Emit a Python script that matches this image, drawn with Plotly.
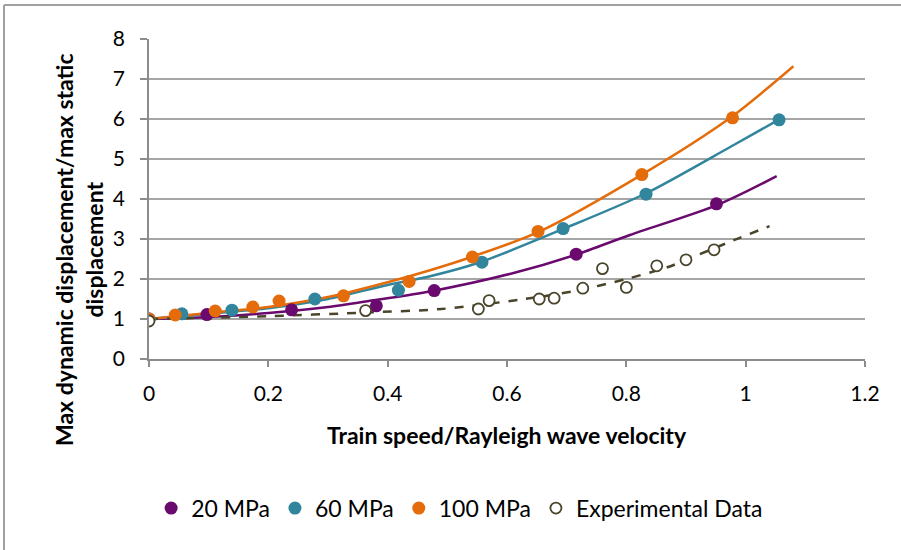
import plotly.graph_objects as go

# ---- data ----
x_20 = [0, 0.097, 0.239, 0.381, 0.478, 0.716, 0.951]
y_20 = [1.0, 1.11, 1.23, 1.33, 1.71, 2.62, 3.88]
fit_x_20 = [0, 0.1, 0.2, 0.3, 0.376, 0.471, 0.611, 0.714, 0.806, 0.954, 1.052]
fit_y_20 = [1.0, 1.05, 1.15, 1.3, 1.47, 1.69, 2.15, 2.6, 3.1, 3.86, 4.57]

x_60 = [0, 0.055, 0.139, 0.278, 0.418, 0.558, 0.694, 0.833, 1.056]
y_60 = [1.0, 1.13, 1.22, 1.5, 1.72, 2.42, 3.26, 4.12, 5.98]
fit_x_60 = [0, 0.1, 0.2, 0.3, 0.4, 0.471, 0.555, 0.694, 0.834, 0.974, 1.055]
fit_y_60 = [1.0, 1.13, 1.27, 1.5, 1.85, 2.07, 2.42, 3.25, 4.15, 5.3, 5.98]

x_100 = [0, 0.044, 0.111, 0.174, 0.218, 0.326, 0.436, 0.542, 0.652, 0.826, 0.978]
y_100 = [1.0, 1.1, 1.2, 1.3, 1.45, 1.58, 1.94, 2.55, 3.19, 4.61, 6.03]
fit_x_100 = [0, 0.1, 0.2, 0.3, 0.4, 0.471, 0.544, 0.652, 0.826, 0.976, 1.08]
fit_y_100 = [1.0, 1.15, 1.3, 1.55, 1.92, 2.22, 2.57, 3.17, 4.61, 6.05, 7.32]

x_exp = [0, 0.363, 0.552, 0.570, 0.654, 0.679, 0.727, 0.760, 0.800, 0.851, 0.900, 0.947]
y_exp = [0.95, 1.21, 1.25, 1.46, 1.5, 1.52, 1.77, 2.26, 1.79, 2.33, 2.48, 2.73]
fit_x_exp = [0, 0.2, 0.36, 0.49, 0.62, 0.71, 0.8, 0.87, 0.91, 0.99, 1.04]
fit_y_exp = [1.0, 1.07, 1.16, 1.25, 1.48, 1.69, 2.0, 2.3, 2.54, 3.03, 3.32]

x_ticks = [0, 0.2, 0.4, 0.6, 0.8, 1.0, 1.2]
x_tick_labels = ["0", "0.2", "0.4", "0.6", "0.8", "1", "1.2"]
y_ticks = [0, 1, 2, 3, 4, 5, 6, 7, 8]

names = ["20 MPa", "60 MPa", "100 MPa", "Experimental Data"]
C_PURPLE = "#6A0A6E"
C_TEAL = "#31859C"
C_ORANGE = "#E46C0A"
C_OLIVE = "#4A452A"

FONT = "Lato"

fig = go.Figure()

# trendlines
for fx, fy, col, dash in [
    (fit_x_20, fit_y_20, C_PURPLE, "solid"),
    (fit_x_60, fit_y_60, C_TEAL, "solid"),
    (fit_x_100, fit_y_100, C_ORANGE, "solid"),
    (fit_x_exp, fit_y_exp, C_OLIVE, "dash"),
]:
    fig.add_trace(go.Scatter(x=fx, y=fy, mode="lines",
                             line=dict(color=col, width=2.5, dash=dash, shape="spline", smoothing=0.8),
                             showlegend=False, hoverinfo="skip"))

# markers
fig.add_trace(go.Scatter(x=x_20, y=y_20, mode="markers", name=names[0],
                         marker=dict(color=C_PURPLE, size=13, line=dict(width=0))))
fig.add_trace(go.Scatter(x=x_60, y=y_60, mode="markers", name=names[1],
                         marker=dict(color=C_TEAL, size=13, line=dict(width=0))))
fig.add_trace(go.Scatter(x=x_100, y=y_100, mode="markers", name=names[2],
                         marker=dict(color=C_ORANGE, size=13, line=dict(width=0))))
fig.add_trace(go.Scatter(x=x_exp, y=y_exp, mode="markers", name=names[3],
                         marker=dict(color="white", size=11, line=dict(width=1.8, color=C_OLIVE))))

fig.update_layout(
    width=901, height=550,
    margin=dict(l=149, r=36, t=39, b=191),
    paper_bgcolor="white", plot_bgcolor="white",
    font=dict(family=FONT, size=21, color="#000000"),
    xaxis=dict(range=[0, 1.2], tickvals=x_ticks, ticktext=x_tick_labels, showgrid=False,
               showline=True, linecolor="#8C8C8C", linewidth=1.5, ticks="outside", ticklen=6,
               tickcolor="#8C8C8C", tickwidth=1.5, zeroline=False, tickfont=dict(size=21),
               ticklabelstandoff=9),
    yaxis=dict(range=[0, 8], tickvals=y_ticks, showgrid=True, gridcolor="#A6A6A6", gridwidth=1.5,
               showline=True, linecolor="#8C8C8C", linewidth=1.5, ticks="outside", ticklen=7,
               tickcolor="#8C8C8C", tickwidth=1.5, zeroline=False, tickfont=dict(size=21),
               ticklabelstandoff=11),
    legend=dict(orientation="h", x=0.003, y=-0.466, xanchor="left", yanchor="middle",
                font=dict(size=23), itemwidth=30, traceorder="normal"),
    showlegend=True,
)

fig.add_annotation(text="<b>Train speed/Rayleigh wave velocity</b>", xref="paper", yref="paper",
                   x=(507 - 149) / 716, y=(359 - 435) / 320, xanchor="center", yanchor="middle",
                   showarrow=False, font=dict(size=23))
fig.add_annotation(text="<b>Max dynamic displacement/max static<br>displacement</b>", xref="paper", yref="paper",
                   x=(79 - 149) / 716, y=(359 - 250) / 320, textangle=-90, xanchor="center", yanchor="middle",
                   showarrow=False, font=dict(size=23))

# outer chart frame (top and left edges)
fig.add_shape(type="line", xref="paper", yref="paper", x0=-145/716, x1=1.1, y0=1 + 34/320, y1=1 + 34/320,
              line=dict(color="#A0A0A0", width=2))
fig.add_shape(type="line", xref="paper", yref="paper", x0=-145/716, x1=-145/716, y0=-1, y1=1 + 34/320,
              line=dict(color="#A0A0A0", width=2))

fig.write_html("out.html")
